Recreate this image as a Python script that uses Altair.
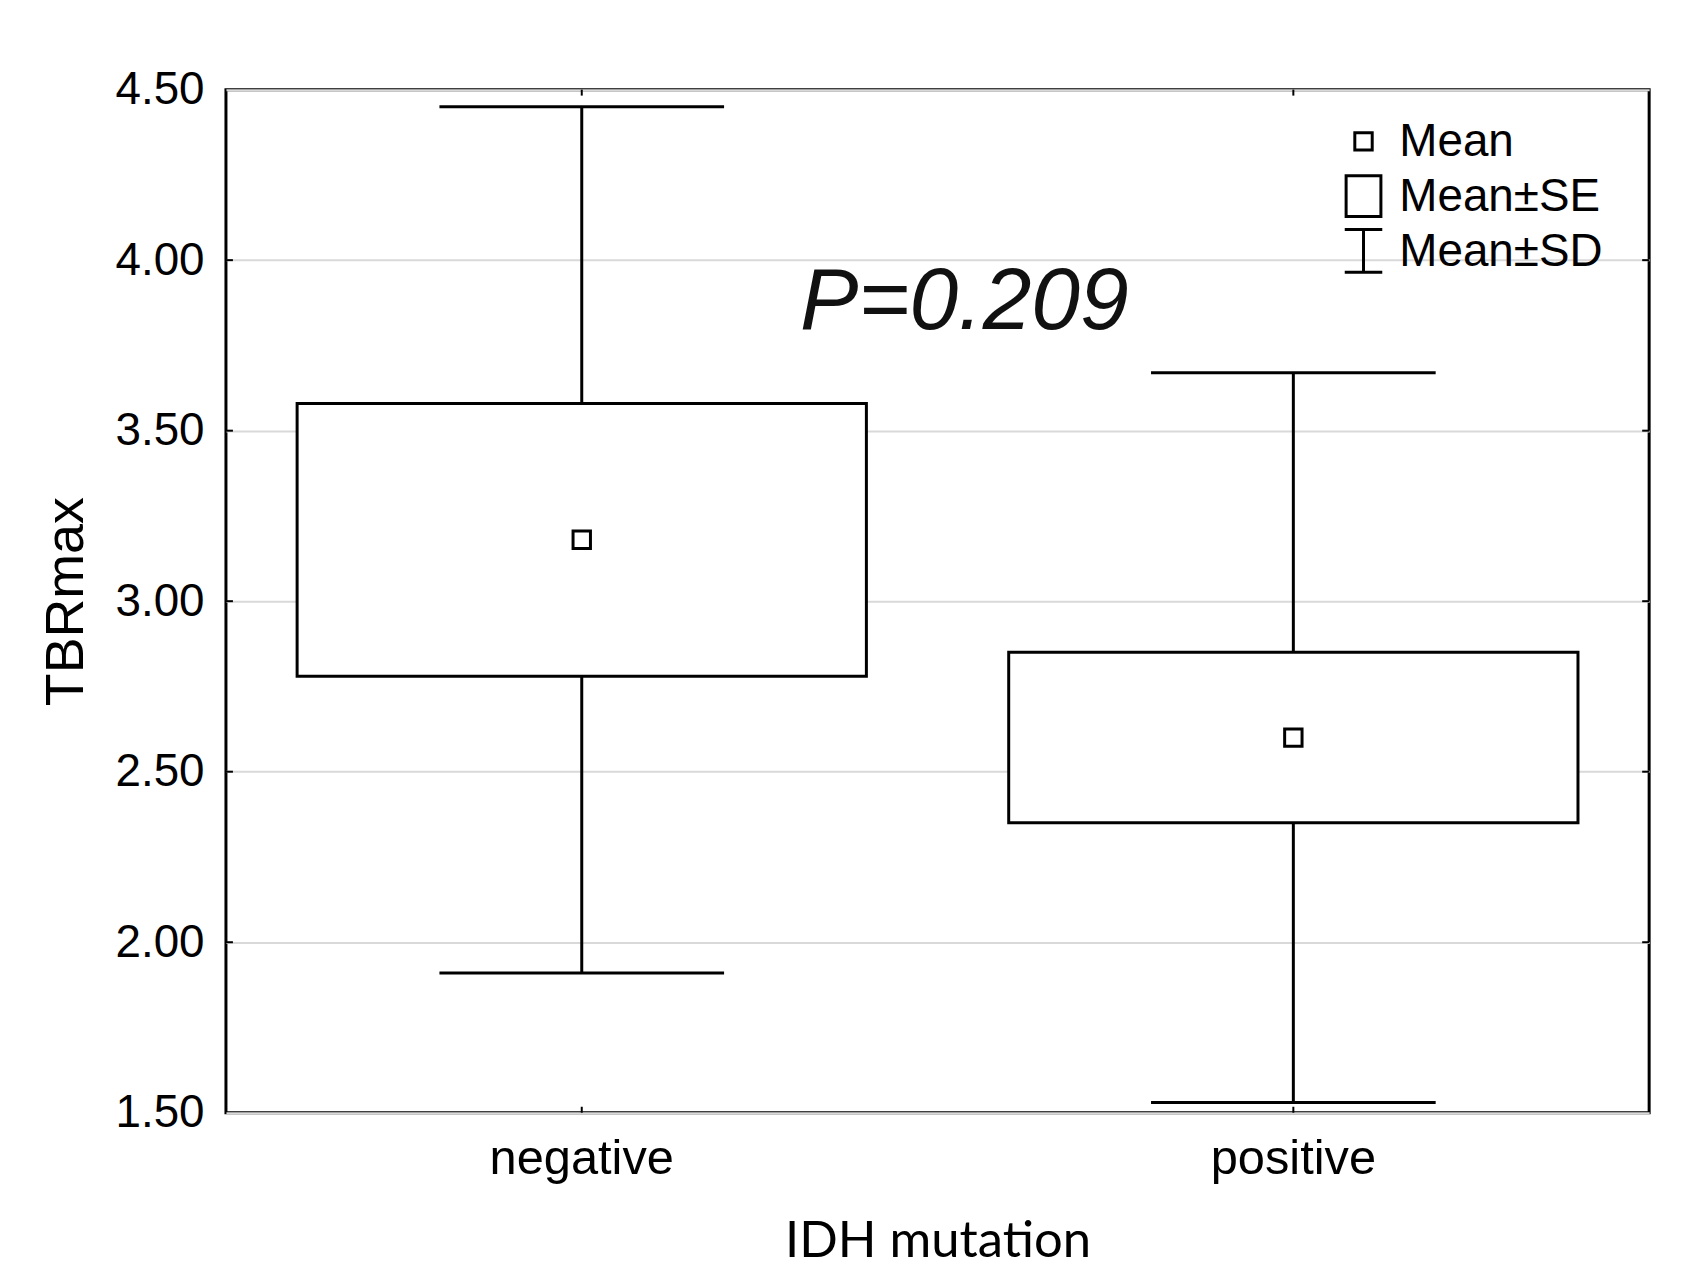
import altair as alt
import pandas as pd

# ---- data ----
groups = ["negative", "positive"]
means = [3.18, 2.60]
se_low = [2.78, 2.35]
se_high = [3.58, 2.85]
sd_low = [1.91, 1.53]
sd_high = [4.45, 3.67]
y_ticks = [1.5, 2.0, 2.5, 3.0, 3.5, 4.0, 4.5]
legend_items = ["Mean", "Mean±SE", "Mean±SD"]
p_text = "P=0.209"

W, H = 1430, 1028

df = pd.DataFrame({
    "group": groups, "mean": means, "se_low": se_low, "se_high": se_high,
    "sd_low": sd_low, "sd_high": sd_high,
})
ticks_df = pd.DataFrame({"v": [t for t in y_ticks if 1.5 < t < 4.5]})

yscale = alt.Scale(domain=[1.5, 4.5], nice=False, zero=False)
xscale = alt.Scale(type="band", domain=groups, paddingInner=0, paddingOuter=0)

x_axis = alt.Axis(
    title="IDH mutation", labelAngle=0, ticks=False, tickSize=0, domain=False,
    grid=False, labelFont="Liberation Sans", labelFontSize=49, labelLimit=0,
    labelBaseline="alphabetic", labelPadding=61, labelColor="black",
    titleFont="Lato", titleFontSize=51, titleFontWeight="normal",
    titleBaseline="alphabetic", titleY=144, titleX=W / 2, titleColor="black",
)
y_axis = alt.Axis(
    title="TBRmax", values=y_ticks, format=".2f", ticks=False, tickSize=0,
    domain=False, grid=True, gridColor="#d9d9d9", gridWidth=2,
    labelFont="Liberation Sans", labelFontSize=46, labelPadding=22,
    labelColor="black", titleFont="Liberation Sans", titleFontSize=54,
    titleFontWeight="normal", titleBaseline="alphabetic", titleX=-144,
    titleY=H / 2, titleColor="black",
)

base = alt.Chart(df)
X = alt.X("group:N", scale=xscale, axis=x_axis)


def Y(field):
    return alt.Y(field, scale=yscale, axis=y_axis)


stems = base.mark_rule(color="black", strokeWidth=3).encode(
    x=X, y=Y("sd_low:Q"), y2="sd_high:Q")

boxes = base.mark_bar(fill="white", stroke="black", strokeWidth=3, opacity=1,
                      width=alt.RelativeBandSize(0.8)).encode(
    x=X, y=Y("se_low:Q"), y2="se_high:Q")

cap_hi = base.mark_tick(color="black", size=286, thickness=3, opacity=1).encode(
    x=X, y=Y("sd_high:Q"))
cap_lo = base.mark_tick(color="black", size=286, thickness=3, opacity=1).encode(
    x=X, y=Y("sd_low:Q"))

shape_paths = {
    "Mean": "M-0.38,-0.38H0.38V0.38H-0.38Z",
    "Mean±SE": "M-0.76,-0.89H0.76V0.89H-0.76Z",
    "Mean±SD": "M-0.82,-0.93H0.82M0,-0.93V0.93M-0.82,0.93H0.82",
}
mean_pts = base.mark_point(filled=True, size=2116, opacity=1, fill="white",
                           stroke="black", strokeWidth=3,
                           shape=shape_paths["Mean"]).encode(
    x=X, y=Y("mean:Q"))

tick_l = alt.Chart(ticks_df).mark_rule(color="black", strokeWidth=2).encode(
    y=Y("v:Q"), x=alt.value(0), x2=alt.value(7))
tick_r = alt.Chart(ticks_df).mark_rule(color="black", strokeWidth=2).encode(
    y=Y("v:Q"), x=alt.value(W), x2=alt.value(W - 7))
tick_b = base.mark_rule(color="black", strokeWidth=2).encode(
    x=X, y=alt.value(H), y2=alt.value(H - 6))
tick_t = base.mark_rule(color="black", strokeWidth=2).encode(
    x=X, y=alt.value(0), y2=alt.value(6))

ptxt = alt.Chart(pd.DataFrame({"t": [p_text]})).mark_text(
    font="Liberation Sans", fontStyle="italic", fontSize=88, align="center",
    baseline="alphabetic", color="#111111").encode(
    text="t:N", x=alt.value(742), y=alt.value(241))

# legend (top-right, inside the plot)
legend_layers = []
for i, item in enumerate(legend_items):
    row = pd.DataFrame({"label": [item]})
    ly = 52 + 55 * i
    legend_layers.append(
        alt.Chart(row).mark_point(filled=True, size=2116, opacity=1, fill="white",
                                  stroke="black", strokeWidth=3,
                                  shape=shape_paths[item]).encode(
            x=alt.value(1143), y=alt.value(ly)))
    legend_layers.append(
        alt.Chart(row).mark_text(font="Liberation Sans", fontSize=46, align="left",
                                 baseline="middle", color="black").encode(
            text="label:N", x=alt.value(1179), y=alt.value(ly + 1)))

chart = alt.layer(
    stems, boxes, cap_hi, cap_lo, tick_l, tick_r, tick_b, tick_t, mean_pts, ptxt,
    *legend_layers
).properties(
    width=W, height=H,
    autosize=alt.AutoSizeParams(type="none"),
    padding={"left": 219, "top": 79, "right": 30, "bottom": 157},
    background="white",
).configure_view(stroke="black", strokeWidth=3)

chart.save("out.html", embed_options={"renderer": "svg", "actions": False})
